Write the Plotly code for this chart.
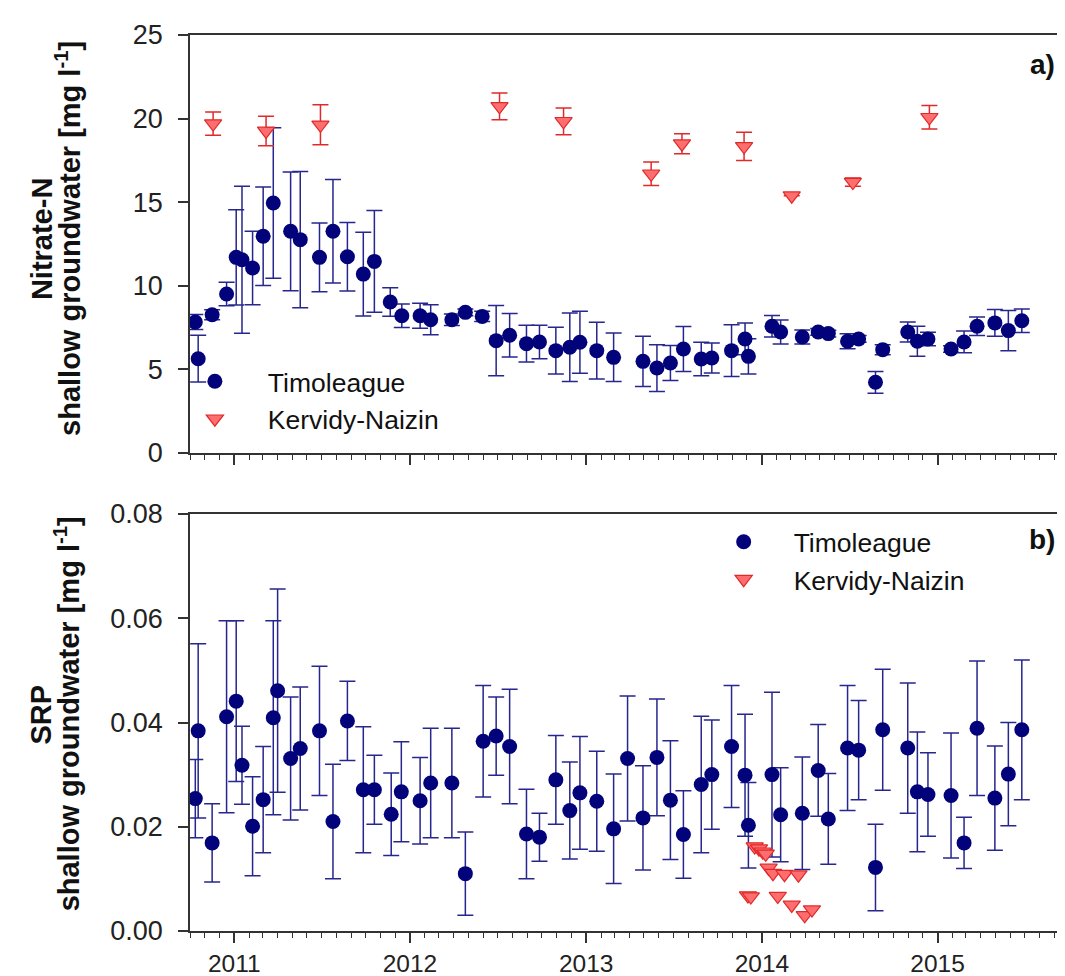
import plotly.graph_objects as go

# ---------------- data ----------------
# Timoleague nitrate-N (mg/l)
tim_no3_dates = ["2010-10-12", "2010-10-18", "2010-11-16", "2010-12-16", "2011-01-05", "2011-01-17",
                 "2011-02-08", "2011-03-02", "2011-03-23", "2011-04-28", "2011-05-18", "2011-06-27",
                 "2011-07-25", "2011-08-24", "2011-09-26", "2011-10-19", "2011-11-21", "2011-12-15",
                 "2012-01-22", "2012-02-13", "2012-03-28", "2012-04-25", "2012-05-30", "2012-06-28",
                 "2012-07-26", "2012-08-30", "2012-09-26", "2012-10-30", "2012-11-28", "2012-12-19",
                 "2013-01-23", "2013-02-27", "2013-04-29", "2013-05-28", "2013-06-25", "2013-07-22",
                 "2013-08-28", "2013-09-19", "2013-10-30", "2013-11-27", "2013-12-04", "2014-01-22",
                 "2014-02-09", "2014-03-26", "2014-04-28", "2014-05-19", "2014-06-28", "2014-07-21",
                 "2014-08-25", "2014-09-09", "2014-10-31", "2014-11-20", "2014-12-12", "2015-01-29",
                 "2015-02-25", "2015-03-24", "2015-04-30", "2015-05-28", "2015-06-25"]
tim_no3 = [7.83, 5.64, 8.27, 9.51, 11.7, 11.56, 11.06, 12.96, 14.95, 13.26, 12.76, 11.7,
           13.26, 11.74, 10.7, 11.46, 9.03, 8.21, 8.21, 7.97, 7.97, 8.41, 8.17, 6.72,
           7.04, 6.54, 6.64, 6.12, 6.32, 6.62, 6.12, 5.72, 5.48, 5.08, 5.38, 6.22,
           5.62, 5.68, 6.12, 6.82, 5.78, 7.58, 7.24, 6.94, 7.24, 7.14, 6.68, 6.82,
           4.23, 6.18, 7.24, 6.68, 6.82, 6.22, 6.64, 7.58, 7.78, 7.32, 7.91]
tim_no3_err = [0.45, 1.4, 0.3, 0.7, 2.85, 4.4, 2.2, 2.95, 4.5, 3.55, 4.07, 2.05,
               3.1, 2.05, 2.5, 3.05, 0.85, 0.7, 0.75, 0.9, 0.35, 0.2, 0.3, 2.1,
               1.3, 1.1, 1.0, 1.4, 2.05, 1.85, 1.7, 1.45, 1.5, 1.4, 1.05, 1.35,
               1.0, 0.9, 1.55, 0.95, 1.05, 0.65, 0.72, 0.42, 0.2, 0.2, 0.45, 0.2,
               0.65, 0.3, 0.6, 0.9, 0.4, 0.2, 0.65, 0.55, 0.8, 1.2, 0.7]

# Kervidy-Naizin nitrate-N (mg/l)
ker_no3_dates = ["2010-11-18", "2011-03-08", "2011-06-29", "2012-07-05", "2012-11-15", "2013-05-16",
                 "2013-07-19", "2013-11-25", "2014-03-04", "2014-07-09", "2014-12-15"]
ker_no3 = [19.7, 19.26, 19.63, 20.73, 19.84, 16.7, 18.5, 18.34, 15.39, 16.2, 20.08]
ker_no3_err = [0.7, 0.88, 1.2, 0.8, 0.8, 0.7, 0.6, 0.85, 0.0, 0.25, 0.7]

# Timoleague SRP (mg/l)
tim_srp_dates = ["2010-10-12", "2010-10-18", "2010-11-16", "2010-12-16", "2011-01-05", "2011-01-17",
                 "2011-02-08", "2011-03-02", "2011-03-23", "2011-04-01", "2011-04-28", "2011-05-18",
                 "2011-06-27", "2011-07-25", "2011-08-24", "2011-09-26", "2011-10-19", "2011-11-23",
                 "2011-12-14", "2012-01-22", "2012-02-13", "2012-03-28", "2012-04-25", "2012-06-01",
                 "2012-06-28", "2012-07-26", "2012-08-30", "2012-09-26", "2012-10-30", "2012-11-28",
                 "2012-12-19", "2013-01-23", "2013-02-27", "2013-03-28", "2013-04-29", "2013-05-28",
                 "2013-06-25", "2013-07-22", "2013-08-28", "2013-09-19", "2013-10-30", "2013-11-27",
                 "2013-12-04", "2014-01-22", "2014-02-09", "2014-03-26", "2014-04-28", "2014-05-19",
                 "2014-06-28", "2014-07-21", "2014-08-25", "2014-09-09", "2014-10-31", "2014-11-20",
                 "2014-12-12", "2015-01-29", "2015-02-25", "2015-03-24", "2015-04-30", "2015-05-28",
                 "2015-06-25"]
tim_srp = [0.0254, 0.0384, 0.0169, 0.0411, 0.0441, 0.0318, 0.0201, 0.0252, 0.0409, 0.0461,
           0.0331, 0.0350, 0.0384, 0.0210, 0.0403, 0.0271, 0.0271, 0.0224, 0.0267, 0.0250,
           0.0284, 0.0284, 0.0110, 0.0364, 0.0374, 0.0354, 0.0186, 0.0180, 0.0290, 0.0231,
           0.0265, 0.0249, 0.0196, 0.0331, 0.0217, 0.0333, 0.0251, 0.0185, 0.0281, 0.0300,
           0.0354, 0.0299, 0.0203, 0.0300, 0.0223, 0.0226, 0.0308, 0.0215, 0.0351, 0.0347,
           0.0122, 0.0386, 0.0351, 0.0267, 0.0262, 0.0260, 0.0169, 0.0389, 0.0255, 0.0301,
           0.0386]
tim_srp_err = [0.0075, 0.0167, 0.0075, 0.0184, 0.0154, 0.0075, 0.0095, 0.0102, 0.0186, 0.0195,
               0.0118, 0.0118, 0.0124, 0.0110, 0.0076, 0.0121, 0.0066, 0.0079, 0.0096, 0.0083,
               0.0105, 0.0105, 0.0080, 0.0107, 0.0075, 0.0110, 0.0086, 0.0046, 0.0085, 0.0093,
               0.0108, 0.0096, 0.0105, 0.0120, 0.0100, 0.0112, 0.0114, 0.0084, 0.0131, 0.0105,
               0.0117, 0.0117, 0.0082, 0.0158, 0.0090, 0.0108, 0.0088, 0.0087, 0.0120, 0.0095,
               0.0083, 0.0116, 0.0125, 0.0115, 0.0080, 0.0120, 0.0049, 0.0129, 0.0100, 0.0099,
               0.0134]

# Kervidy-Naizin SRP (mg/l)
ker_srp_dates = ["2013-12-03", "2013-12-09", "2013-12-17", "2013-12-26", "2014-01-03", "2014-01-09",
                 "2014-01-15", "2014-01-24", "2014-02-03", "2014-02-17", "2014-03-04", "2014-03-18",
                 "2014-03-31", "2014-04-15"]
ker_srp = [0.0068, 0.0066, 0.0162, 0.0158, 0.0152, 0.0148, 0.0121, 0.0111, 0.0067, 0.0109,
           0.0050, 0.0108, 0.0030, 0.0041]

# ---------------- styling ----------------
NAVY = "#02027a"
NAVY_ERR = "#26268e"
RED_FILL = "#ff6e6e"
RED_LINE = "#e02a2a"
FONT = "Liberation Sans, Arial, sans-serif"
AX = "#333333"
TXT = "#111111"

fig = go.Figure()

fig.add_trace(go.Scatter(
    x=tim_no3_dates, y=tim_no3, mode="markers", name="Timoleague",
    marker=dict(symbol="circle", size=15, color=NAVY, line=dict(width=0)),
    error_y=dict(type="data", array=tim_no3_err, color=NAVY_ERR, thickness=1.5, width=8),
    xaxis="x", yaxis="y", legend="legend"))
fig.add_trace(go.Scatter(
    x=ker_no3_dates, y=ker_no3, mode="markers", name="Kervidy-Naizin",
    marker=dict(symbol="triangle-down", size=15, color=RED_FILL, line=dict(width=1.2, color=RED_LINE)),
    error_y=dict(type="data", array=ker_no3_err, color=RED_LINE, thickness=1.5, width=8),
    xaxis="x", yaxis="y", legend="legend"))

fig.add_trace(go.Scatter(
    x=tim_srp_dates, y=tim_srp, mode="markers", name="Timoleague",
    marker=dict(symbol="circle", size=15, color=NAVY, line=dict(width=0)),
    error_y=dict(type="data", array=tim_srp_err, color=NAVY_ERR, thickness=1.5, width=8),
    xaxis="x2", yaxis="y2", legend="legend2"))
fig.add_trace(go.Scatter(
    x=ker_srp_dates, y=ker_srp, mode="markers", name="Kervidy-Naizin",
    marker=dict(symbol="triangle-down", size=15, color=RED_FILL, line=dict(width=1.2, color=RED_LINE)),
    xaxis="x2", yaxis="y2", legend="legend2"))

xcommon = dict(
    type="date", range=["2010-10-01", "2015-10-01"],
    showline=True, linecolor=AX, linewidth=1.5, mirror=True,
    ticks="outside", ticklen=10, tickwidth=1.5, tickcolor=AX,
    dtick="M12", tick0="2011-01-01", tickformat="%Y",
    minor=dict(dtick="M1", tick0="2011-01-01", ticks="outside", ticklen=5, tickwidth=1.2,
               tickcolor=AX, showgrid=False),
    showgrid=False, zeroline=False,
    tickfont=dict(family=FONT, size=24.5, color="#222222"),
    ticklabelstandoff=0,
)
ycommon = dict(
    showline=True, linecolor=AX, linewidth=1.5, mirror=True,
    ticks="outside", ticklen=10, tickwidth=1.5, tickcolor=AX,
    showgrid=False, zeroline=False,
    tickfont=dict(family=FONT, size=27, color="#222222"),
    ticklabelstandoff=10,
)

title_font = dict(family=FONT, size=29, color=TXT)
annotations = [
    dict(text="<b>Nitrate-N</b>", xref="paper", yref="paper", x=-0.169, y=0.7727,
         xanchor="center", yanchor="middle", textangle=-90, showarrow=False, font=title_font),
    dict(text="<b>shallow groundwater [mg l<sup>-1</sup>]</b>", xref="paper", yref="paper",
         x=-0.1396, y=0.7727, xanchor="center", yanchor="middle", textangle=-90, showarrow=False,
         font=title_font),
    dict(text="<b>SRP</b>", xref="paper", yref="paper", x=-0.169, y=0.2421,
         xanchor="center", yanchor="middle", textangle=-90, showarrow=False, font=title_font),
    dict(text="<b>shallow groundwater [mg l<sup>-1</sup>]</b>", xref="paper", yref="paper",
         x=-0.1396, y=0.2421, xanchor="center", yanchor="middle", textangle=-90, showarrow=False,
         font=title_font),
    dict(text="<b>a)</b>", xref="paper", yref="paper", x=0.9694, y=0.967, xanchor="center",
         yanchor="middle", showarrow=False, font=dict(family=FONT, size=28, color=TXT)),
    dict(text="<b>b)</b>", xref="paper", yref="paper", x=0.9694, y=0.4364, xanchor="center",
         yanchor="middle", showarrow=False, font=dict(family=FONT, size=28, color=TXT)),
]

fig.update_layout(
    width=1065, height=976,
    margin=dict(l=182, r=2, t=27, b=53),
    paper_bgcolor="white", plot_bgcolor="white",
    font=dict(family=FONT, size=24, color=TXT),
    xaxis=dict(xcommon, anchor="y", showticklabels=False, matches="x2"),
    xaxis2=dict(xcommon, anchor="y2"),
    yaxis=dict(ycommon, domain=[0.5335, 1.0], range=[0, 25], dtick=5, tick0=0),
    yaxis2=dict(ycommon, domain=[0.0, 0.4654], range=[0, 0.08], dtick=0.02, tick0=0, tickformat=".2f"),
    legend=dict(x=-0.032, y=0.640, xanchor="left", yanchor="top", bgcolor="rgba(0,0,0,0)",
                font=dict(family=FONT, size=26.5, color=TXT), itemwidth=96, tracegroupgap=0),
    legend2=dict(x=0.573, y=0.4609, xanchor="left", yanchor="top", bgcolor="rgba(0,0,0,0)",
                 font=dict(family=FONT, size=26.5, color=TXT), itemwidth=90, tracegroupgap=0),
    showlegend=True,
    annotations=annotations,
)

fig.write_html("out.html")
